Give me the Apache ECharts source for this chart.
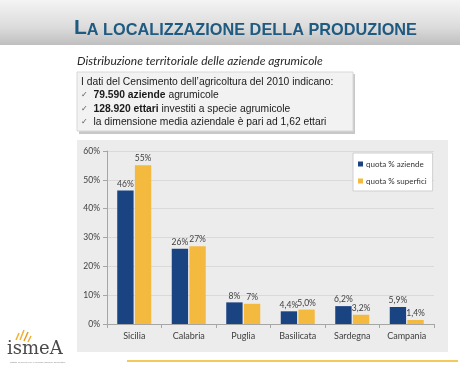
<!DOCTYPE html>
<html><head><meta charset="utf-8">
<script src="https://cdn.jsdelivr.net/npm/echarts@6/dist/echarts.min.js"></script>
<style>html,body{margin:0;padding:0;background:#fff}#c{width:460px;height:371px}</style>
</head><body><div id="c"></div>
<script>
const categories = ['Sicilia','Calabria','Puglia','Basilicata','Sardegna','Campania'];
const aziende = [46.3, 26.1, 7.5, 4.4, 6.2, 5.9];
const superfici = [55.1, 27.0, 7.0, 5.0, 3.2, 1.4];
const aziendeLabels = ['46%','26%','8%','4,4%','6,2%','5,9%'];
const superficiLabels = ['55%','27%','7%','5,0%','3,2%','1,4%'];
const yTicks = [0,10,20,30,40,50,60];
const seriesNames = ['quota % aziende','quota % superfici'];

const chart = echarts.init(document.getElementById('c'));
const lblFont = 'Lato, "Open Sans", sans-serif';
chart.setOption({
  animation:false,
  backgroundColor:'#fff',
  graphic:[
    {type:'rect',shape:{x:0,y:0,width:460,height:45},
     style:{fill:new echarts.graphic.LinearGradient(0,0,0,1,[{offset:0,color:'#f4f4f4'},{offset:0.6,color:'#dcdcdc'},{offset:1,color:'#bfbfbf'}])},z:0},
    {type:'text',left:74,top:18,z:2,style:{
      text:'{b|L}{s|A LOCALIZZAZIONE DELLA PRODUZIONE}',
      rich:{b:{fontSize:21,fontWeight:'bold',fill:'#1f5a80',fontFamily:'"Liberation Sans",Arial,sans-serif',verticalAlign:'bottom'},
            s:{fontSize:16.3,fontWeight:'bold',fill:'#1f5a80',fontFamily:'"Liberation Sans",Arial,sans-serif',verticalAlign:'bottom'}}}},
    {type:'text',left:77,top:55,z:2,style:{text:'Distribuzione territoriale delle aziende agrumicole',
      fontSize:12,fontStyle:'italic',fill:'#262626',fontFamily:lblFont}},
    {type:'rect',shape:{x:79,y:74,width:276,height:60},style:{fill:'#c8c8c8'},z:1},
    {type:'rect',shape:{x:77,y:72,width:276,height:59},style:{fill:'#f2f2f2',stroke:'#d8d8d8',lineWidth:1},z:1},
    {type:'text',left:81,top:75,z:2,style:{
      text:'I dati del Censimento dell\u2019agricoltura del 2010 indicano:\n{c|\u2713}  {bb|79.590 aziende} agrumicole\n{c|\u2713}  {bb|128.920 ettari} investiti a specie agrumicole\n{c|\u2713}  la dimensione media aziendale è pari ad 1,62 ettari',
      fontSize:10.3,lineHeight:13.5,fill:'#1a1a1a',fontFamily:'"Liberation Sans",Arial,sans-serif',
      rich:{c:{fontSize:8,fill:'#555',fontFamily:'"DejaVu Sans",sans-serif',lineHeight:13.5},
            bb:{fontSize:10.3,fontWeight:'bold',fill:'#1a1a1a',fontFamily:'"Liberation Sans",Arial,sans-serif',lineHeight:13.5}}}},
    {type:'rect',shape:{x:77,y:140,width:371,height:212},style:{fill:'#ececec'},z:0},
    {type:'rect',shape:{x:127,y:360,width:331,height:2},style:{fill:'#f5c85a'},z:1},
    {type:'text',left:7,top:340,z:2,style:{text:'ismeA',fontSize:18,fill:'#4a4a4a',fontFamily:'"DejaVu Serif",serif'}},
    {type:'text',left:10,top:361,z:2,style:{text:'istituto di servizi per il mercato agricolo alimentare',fontSize:2.5,fill:'#888'}},
    {type:'line',shape:{x1:16,y1:340,x2:19,y2:333},style:{stroke:'#f0b030',lineWidth:1.5},z:2},
    {type:'line',shape:{x1:20,y1:340,x2:24,y2:330},style:{stroke:'#f0b030',lineWidth:1.5},z:2},
    {type:'line',shape:{x1:24,y1:341,x2:28,y2:332},style:{stroke:'#e89a20',lineWidth:1.5},z:2},
    {type:'line',shape:{x1:28,y1:342,x2:31,y2:336},style:{stroke:'#f0b030',lineWidth:1.5},z:2}
  ],
  grid:{left:107,right:26,top:151,bottom:47,show:true,backgroundColor:'#fff',borderWidth:0},
  legend:{
    orient:'vertical',left:353,top:153,width:70,
    backgroundColor:'#fff',borderColor:'#cfcfcf',borderWidth:1,padding:[7,6,6,5],
    itemWidth:5,itemHeight:5,itemGap:9,icon:'rect',
    textStyle:{fontSize:8,color:'#333',fontFamily:lblFont,padding:[0,0,0,-2]},
    data:seriesNames
  },
  xAxis:{type:'category',data:categories,
    axisLine:{lineStyle:{color:'#a6a6a6'}},
    axisTick:{show:true,length:4,lineStyle:{color:'#a6a6a6'}},
    axisLabel:{fontSize:9,color:'#404040',fontFamily:lblFont,margin:8}},
  yAxis:{type:'value',min:0,max:60,interval:10,
    axisLine:{show:true,lineStyle:{color:'#a6a6a6'}},
    axisTick:{show:true,length:4,lineStyle:{color:'#a6a6a6'}},
    splitLine:{lineStyle:{color:'#d9d9d9'}},
    axisLabel:{fontSize:8.5,color:'#404040',fontFamily:lblFont,margin:7,
      formatter:v=>yTicks.includes(v)?v+'%':''}},
  series:[
    {name:seriesNames[0],type:'bar',data:aziende,barWidth:'30%',barGap:'8%',
     itemStyle:{color:'#1a4382'},
     label:{show:true,position:'top',distance:2,fontSize:8.5,color:'#404040',fontFamily:lblFont,
       formatter:p=>aziendeLabels[p.dataIndex]}},
    {name:seriesNames[1],type:'bar',data:superfici,barWidth:'30%',
     itemStyle:{color:'#f4b93f'},
     label:{show:true,position:'top',distance:2,fontSize:8.5,color:'#404040',fontFamily:lblFont,
       formatter:p=>superficiLabels[p.dataIndex]}}
  ]
});
</script></body></html>
